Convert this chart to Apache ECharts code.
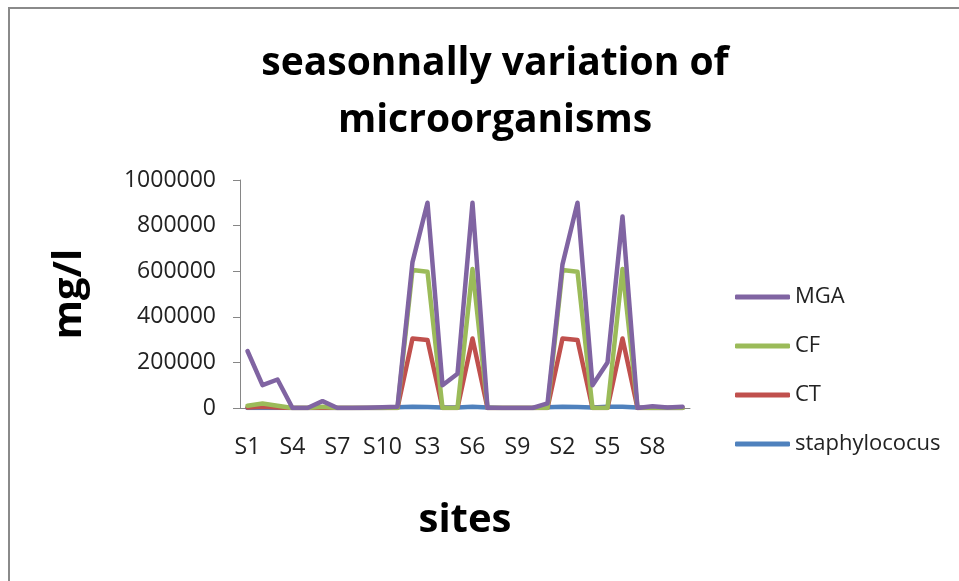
<!DOCTYPE html>
<html>
<head>
<meta charset="utf-8">
<script src="https://cdn.jsdelivr.net/npm/echarts@6/dist/echarts.min.js"></script>
<style>html,body{margin:0;padding:0;background:#fff;}#c{width:959px;height:581px;}</style>
</head>
<body>
<div id="c"></div>
<script>
const categories = ['S1','S2','S3','S4','S5','S6','S7','S8','S9','S10',
                    'S1','S2','S3','S4','S5','S6','S7','S8','S9','S10',
                    'S1','S2','S3','S4','S5','S6','S7','S8','S9','S10'];
const MGA = [250000,100000,125000,0,0,30000,0,0,1000,3000,
             6000,640000,900000,100000,150000,900000,0,0,0,0,
             20000,630000,900000,100000,200000,840000,0,8000,2000,6000];
const CF  = [10000,20000,10000,0,0,5000,0,0,0,0,
             0,605000,598000,0,0,610000,0,0,0,0,
             0,605000,598000,0,0,610000,0,0,0,0];
const CT  = [2000,5000,2000,0,0,0,0,0,0,0,
             0,305000,298000,0,0,305000,0,0,0,0,
             0,305000,298000,0,0,305000,0,0,0,0];
const staphylococus = [0,0,0,0,0,0,0,0,0,0,
             3000,5000,4000,2000,2000,5000,2000,0,0,0,
             3000,5000,4000,2000,5000,5000,2000,0,0,0];
const yTicks = [0,200000,400000,600000,800000,1000000];

const chart = echarts.init(document.getElementById('c'), null, {renderer:'canvas'});
const lbl = {fontFamily:'Open Sans', fontSize:23, color:'#222'};
function s(name, data, color){
  return {name, type:'line', data, symbol:'none', smooth:false,
    lineStyle:{color, width:4.5, cap:'round', join:'round'}, itemStyle:{color}};
}
chart.setOption({
  animation:false,
  backgroundColor:'#fff',
  graphic:[{type:'rect', shape:{x:9,y:8,width:1000,height:1000},
            style:{fill:'none', stroke:'#8a8a8a', lineWidth:2}, silent:true}],
  title:{text:'seasonnally variation of\nmicroorganisms', left:490, top:30, textAlign:'center',
    textStyle:{fontFamily:'Open Sans', fontWeight:'bold', fontSize:39, lineHeight:57, color:'#000'}},
  grid:{left:240, right:269, top:180, bottom:173},
  legend:{orient:'vertical', left:730, top:281, icon:'roundRect', itemWidth:55, itemHeight:5, itemGap:27,
    data:['MGA','CF','CT','staphylococus'],
    textStyle:{fontFamily:'Open Sans', fontSize:22, color:'#222', lineHeight:21}},
  xAxis:{type:'category', data:categories, boundaryGap:true,
    name:'sites', nameLocation:'middle', nameGap:93,
    nameTextStyle:{fontFamily:'Open Sans', fontWeight:'bold', fontSize:40, color:'#000'},
    axisLine:{lineStyle:{color:'#868686', width:1}}, axisTick:{show:false},
    axisLabel:Object.assign({interval:2, margin:28}, lbl)},
  yAxis:{type:'value', min:0, max:1000000, interval:200000,
    name:'mg/l', nameLocation:'middle', nameGap:150, nameRotate:90,
    nameTextStyle:{fontFamily:'Open Sans', fontWeight:'bold', fontSize:40, color:'#000'},
    splitLine:{show:false},
    axisLine:{show:true, lineStyle:{color:'#868686', width:1}},
    axisTick:{show:true, length:7, lineStyle:{color:'#868686'}},
    axisLabel:Object.assign({margin:24, formatter:v=>String(v)}, lbl)},
  series:[
    s('staphylococus', staphylococus, '#4F81BD'),
    s('CT', CT, '#C0504D'),
    s('CF', CF, '#9BBB59'),
    s('MGA', MGA, '#8064A2')
  ]
});
</script>
</body>
</html>
